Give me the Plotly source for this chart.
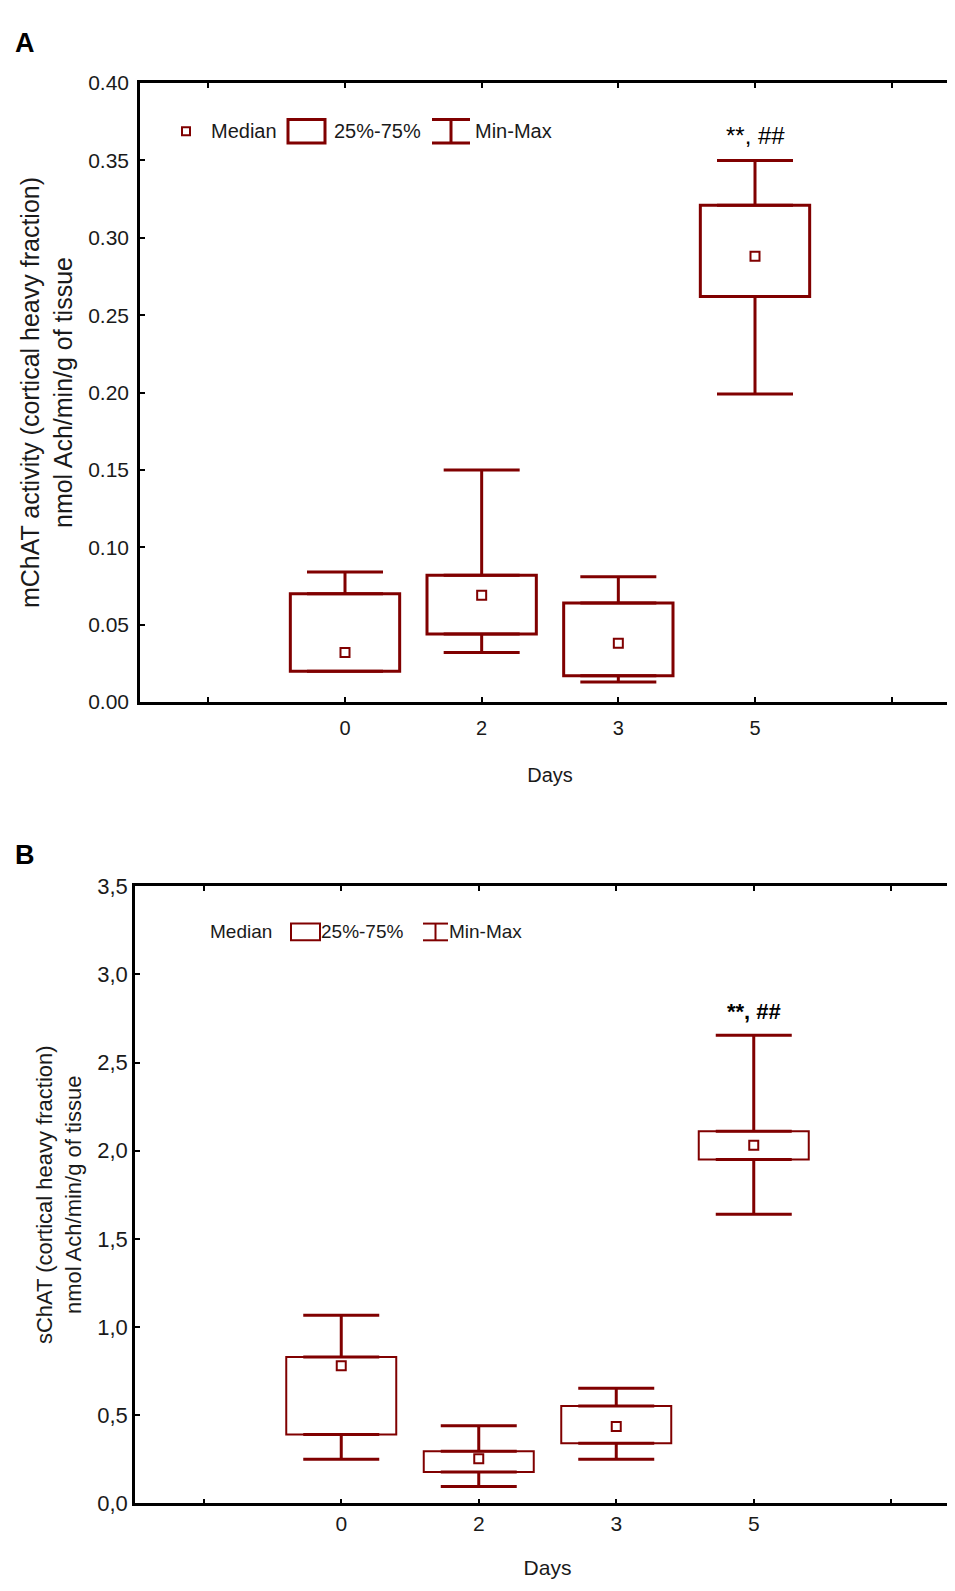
import plotly.graph_objects as go

# Days on the x axis (two blank slots, one at each end)
days = ["0", "2", "3", "5"]

# Panel A: mChAT activity, nmol Ach/min/g of tissue
a_min = [0.020, 0.032, 0.013, 0.199]
a_q1 = [0.020, 0.044, 0.017, 0.262]
a_median = [0.032, 0.069, 0.038, 0.288]
a_q3 = [0.070, 0.082, 0.064, 0.321]
a_max = [0.084, 0.150, 0.081, 0.350]
a_ticks = [0.00, 0.05, 0.10, 0.15, 0.20, 0.25, 0.30, 0.35, 0.40]

# Panel B: sChAT, nmol Ach/min/g of tissue
b_min = [0.25, 0.095, 0.25, 1.64]
b_q1 = [0.39, 0.178, 0.34, 1.95]
b_median = [0.78, 0.253, 0.435, 2.03]
b_q3 = [0.83, 0.295, 0.552, 2.11]
b_max = [1.066, 0.44, 0.653, 2.654]
b_ticks = [0.0, 0.5, 1.0, 1.5, 2.0, 2.5, 3.0, 3.5]
b_tick_text = ["0,0", "0,5", "1,0", "1,5", "2,0", "2,5", "3,0", "3,5"]

signif = "**, ##"

RED = "#800000"
W, H = 955, 1591
FONT = "Liberation Sans, Arial, sans-serif"

pos = list(range(1, len(days) + 1))
slot_vals = list(range(len(days) + 2))
slot_text = [""] + days + [""]


def px_x(x):
    return x / W


def px_y(y):
    return 1 - y / H


def add_panel(fig, xa, ya, lo, q1, med, q3, hi, box_lw):
    fig.add_trace(go.Bar(
        x=pos, y=[b - a for a, b in zip(q1, q3)], base=q1, width=0.8,
        marker=dict(color="white", line=dict(color=RED, width=box_lw)),
        xaxis=xa, yaxis=ya, showlegend=False, hoverinfo="skip"))
    # upper whisker q3 -> max
    fig.add_trace(go.Scatter(
        x=pos, y=q3, mode="markers", marker=dict(color="rgba(0,0,0,0)", size=1),
        error_y=dict(type="data", symmetric=False,
                     array=[b - a for a, b in zip(q3, hi)], arrayminus=[0] * len(q3),
                     width=38, thickness=3, color=RED),
        xaxis=xa, yaxis=ya, showlegend=False, hoverinfo="skip"))
    # lower whisker min -> q1
    fig.add_trace(go.Scatter(
        x=pos, y=q1, mode="markers", marker=dict(color="rgba(0,0,0,0)", size=1),
        error_y=dict(type="data", symmetric=False,
                     array=[0] * len(q1), arrayminus=[a - b for a, b in zip(q1, lo)],
                     width=38, thickness=3, color=RED),
        xaxis=xa, yaxis=ya, showlegend=False, hoverinfo="skip"))
    fig.add_trace(go.Scatter(
        x=pos, y=med, mode="markers",
        marker=dict(symbol="square-open", size=9, color=RED, line=dict(width=2)),
        xaxis=xa, yaxis=ya, showlegend=False, hoverinfo="skip"))


fig = go.Figure()
add_panel(fig, "x", "y", a_min, a_q1, a_median, a_q3, a_max, 3)
add_panel(fig, "x2", "y2", b_min, b_q1, b_median, b_q3, b_max, 2)

axis_common = dict(showline=True, linecolor="black", linewidth=2.5, mirror="ticks",
                   ticks="inside", ticklen=5, tickwidth=2, tickcolor="black",
                   showgrid=False, zeroline=False)

fig.update_layout(
    width=W, height=H, margin=dict(l=0, r=0, t=0, b=0),
    paper_bgcolor="white", plot_bgcolor="white",
    font=dict(family=FONT, color="#1a1a1a"),
    showlegend=False,
    xaxis=dict(domain=[px_x(132), px_x(952)], anchor="y", range=[-0.5, 5.5],
               tickvals=slot_vals, ticktext=slot_text, tickfont=dict(size=20),
               ticklabelstandoff=6,
               title=dict(text="Days", font=dict(size=20), standoff=31), **axis_common),
    yaxis=dict(domain=[px_y(693), px_y(64)], anchor="x", range=[0, 0.40],
               tickvals=a_ticks, tickformat=".2f", tickfont=dict(size=21),
               ticklabelstandoff=4,
               title=dict(text="mChAT activity (cortical heavy fraction)<br>nmol Ach/min/g of tissue",
                          font=dict(size=25), standoff=9),
               **axis_common),
    xaxis2=dict(domain=[px_x(127), px_x(952)], anchor="y2", range=[-0.5, 5.5],
                tickvals=slot_vals, ticktext=slot_text, tickfont=dict(size=21),
                title=dict(text="Days", font=dict(size=21), standoff=27), **axis_common),
    yaxis2=dict(domain=[px_y(1507), px_y(880)], anchor="x2", range=[0, 3.5],
                tickvals=b_ticks, ticktext=b_tick_text, tickfont=dict(size=22),
                title=dict(text="sChAT (cortical heavy fraction)<br>nmol Ach/min/g of tissue",
                           font=dict(size=22), standoff=10),
                **axis_common),
)

# significance marks above day 5
fig.add_annotation(x=pos[-1], y=a_max[-1], xref="x", yref="y", text=signif,
                   showarrow=False, yanchor="middle", yshift=25,
                   font=dict(size=24, color="black", family=FONT))
fig.add_annotation(x=pos[-1], y=b_max[-1], xref="x2", yref="y2", text="<b>" + signif + "</b>",
                   showarrow=False, yanchor="middle", yshift=24,
                   font=dict(size=22, color="black", family=FONT))

# panel letters
for letter, ly in [("A", 23), ("B", 848)]:
    fig.add_annotation(x=px_x(17), y=px_y(ly), xref="paper", yref="paper", text="<b>" + letter + "</b>",
                       showarrow=False, xanchor="center", yanchor="middle",
                       font=dict(size=27, color="black", family=FONT))


def legend_text(x, y, text, size):
    fig.add_annotation(x=px_x(x), y=px_y(y), xref="paper", yref="paper", text=text,
                       showarrow=False, xanchor="left", yanchor="middle",
                       font=dict(size=size, color="#1a1a1a", family=FONT))


def legend_rect(x0, y0, x1, y1, lw):
    fig.add_shape(type="rect", xref="paper", yref="paper",
                  x0=px_x(x0), x1=px_x(x1), y0=px_y(y0), y1=px_y(y1),
                  line=dict(color=RED, width=lw), fillcolor="white")


def legend_whisker(x0, x1, y0, y1, lw):
    xm = (x0 + x1) / 2
    for seg in [(x0, y0, x1, y0), (x0, y1, x1, y1), (xm, y0, xm, y1)]:
        fig.add_shape(type="line", xref="paper", yref="paper",
                      x0=px_x(seg[0]), y0=px_y(seg[1]), x1=px_x(seg[2]), y1=px_y(seg[3]),
                      line=dict(color=RED, width=lw))


# legend, panel A
legend_rect(174, 109, 182, 117, 2)
legend_text(201, 113, "Median", 20)
legend_rect(280, 101, 317, 125, 3)
legend_text(324, 113, "25%-75%", 20)
legend_whisker(424, 462, 101, 125, 3)
legend_text(465, 113, "Min-Max", 20)

# legend, panel B
legend_text(200, 926, "Median", 19)
legend_rect(283, 918, 312, 935, 2)
legend_text(311, 926, "25%-75%", 19)
legend_whisker(415, 440, 918, 935, 2)
legend_text(439, 926, "Min-Max", 19)

fig.write_html("out.html")
